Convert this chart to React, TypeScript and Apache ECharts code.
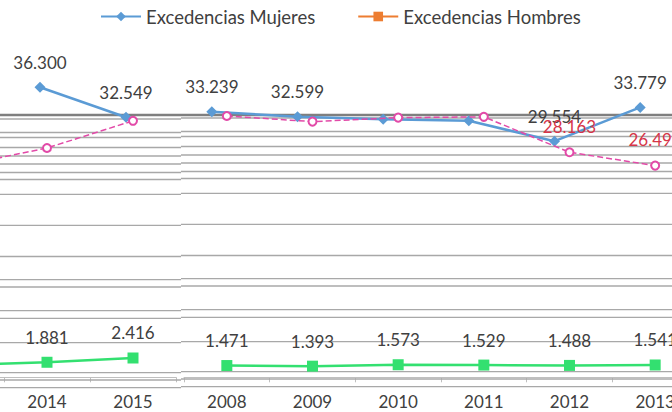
import React, { useEffect, useRef } from "react";
import * as echarts from "echarts";

const years = ["2008", "2009", "2010", "2011", "2012", "2013", "2014", "2015"];
const mujeres = [33239, 32599, 32300, 32100, 29554, 33779, 36300, 32549];
const hombres = [1471, 1393, 1573, 1529, 1488, 1541, 1881, 2416];
const fantasma = [32700, 32000, 32500, 32600, 28163, 26495, 28700, 32100];
const mujeresLabelShown = [true, true, false, false, true, true, true, true];
const fantasmaLabelShown = [false, false, false, false, true, true, false, false];

const leftIdx = [5, 6, 7];
const rightIdx = [0, 1, 2, 3, 4, 5];

const fmt = (v: number) =>
  String(Math.round(v)).replace(/\B(?=(\d{3})+(?!\d))/g, ".");

const FONT = "Lato, 'Open Sans', sans-serif";
const BLUE = "#5B9BD5";
const ORANGE = "#ED7D31";
const GREEN = "#33E070";
const PINK = "#E24AA8";
const TEXT = "#404040";

// glitch stripes seen in the picture (style only)
const stripeYs = [118, 131.5, 136.5, 146.5, 155, 163, 171.5, 178.5, 193.3, 224.3, 255.5, 278.7, 286, 309.7, 317.3, 341.7, 371.7, 379, 386.7];

export default function App() {
  const ref = useRef<HTMLDivElement>(null);
  useEffect(() => {
    if (!ref.current) return;
    const chart = echarts.init(ref.current, null, { renderer: "svg" });

    const gridTop = 57.7;
    const gridBottom = 34.7;
    const yAx = (i: number) => ({
      type: "value",
      gridIndex: i,
      min: 0,
      max: 40000,
      show: false,
      splitLine: { show: false },
    });
    // the left panel begins with a category lying outside the picture
    const xAx = (i: number, cats: string[], visible: boolean, hideFirst: boolean) => ({
      type: "category",
      gridIndex: i,
      data: cats,
      show: visible,
      boundaryGap: true,
      axisLine: { show: true, lineStyle: { color: "#BFBFBF", width: 1 } },
      axisTick: { show: true, length: 5, lineStyle: { color: "#BFBFBF" } },
      axisLabel: {
        interval: hideFirst ? (idx: number) => idx !== 0 : 0,
        margin: 16,
        fontSize: 17,
        color: TEXT,
        fontFamily: FONT,
      },
    });

    const leftCats = leftIdx.map((k) => years[k]);
    const rightCats = rightIdx.map((k) => years[k]);

    const labelBase = {
      show: true,
      position: "top",
      fontSize: 17,
      color: TEXT,
      fontFamily: FONT,
      formatter: (p: any) => fmt(p.value),
    };

    const mujeresSeries = (idx: number[], axis: number, hideFirst: boolean) => ({
      name: "Excedencias Mujeres",
      type: "line",
      xAxisIndex: axis,
      yAxisIndex: axis,
      data: idx.map((k, j) =>
        hideFirst && j === 0
          ? "-"
          : { value: mujeres[k], label: { show: mujeresLabelShown[k] } }
      ),
      symbol: "diamond",
      symbolSize: 11,
      lineStyle: { color: BLUE, width: 2.5 },
      itemStyle: { color: BLUE },
      label: { ...labelBase, distance: 11 },
      z: 3,
    });
    const hombresSeries = (idx: number[], axis: number, hideFirst: boolean) => ({
      name: "Excedencias Hombres",
      type: "line",
      xAxisIndex: axis,
      yAxisIndex: axis,
      data: idx.map((k, j) => ({ value: hombres[k], label: { show: !(hideFirst && j === 0) } })),
      symbol: "rect",
      symbolSize: 11,
      lineStyle: { color: GREEN, width: 2.5 },
      itemStyle: { color: GREEN },
      label: { ...labelBase, distance: 11 },
      z: 3,
    });
    const fantasmaSeries = (idx: number[], axis: number, hideFirst: boolean) => ({
      name: "fantasma",
      type: "line",
      xAxisIndex: axis,
      yAxisIndex: axis,
      data: idx.map((k, j) => ({
        value: fantasma[k],
        label: { show: fantasmaLabelShown[k] && !(hideFirst && j === 0) },
      })),
      symbol: "emptyCircle",
      symbolSize: 8,
      lineStyle: { color: PINK, width: 1.5, type: "dashed" },
      itemStyle: { color: PINK },
      label: { ...labelBase, color: "#D63548", distance: 12.5 },
      z: 4,
    });

    const graphics: any[] = [];
    graphics.push({
      type: "line",
      shape: { x1: 0, y1: 115, x2: 672, y2: 115 },
      style: { stroke: "#7F7F7F", lineWidth: 2.5 },
      z: 1,
    });
    stripeYs.forEach((y) => {
      graphics.push({
        type: "line",
        shape: { x1: 0, y1: y + 1, x2: 181, y2: y + 1 },
        style: { stroke: "#A8A8A8", lineWidth: 1.3 },
        z: 1,
      });
      graphics.push({
        type: "line",
        shape: { x1: 181, y1: y, x2: 672, y2: y },
        style: { stroke: "#A8A8A8", lineWidth: 1.3 },
        z: 1,
      });
    });

    const g = (left: number, width: number) => ({
      left,
      width,
      top: gridTop,
      bottom: gridBottom,
      outerBoundsMode: "none",
      containLabel: false,
    });

    const option: any = {
      animation: false,
      backgroundColor: "#FFFFFF",
      legend: {
        data: [
          { name: "Excedencias Mujeres" },
          {
            name: "Excedencias Hombres",
            itemStyle: { color: ORANGE },
            lineStyle: { color: ORANGE },
          },
        ],
        left: 100,
        top: 7,
        padding: 0,
        itemWidth: 40,
        itemHeight: 12,
        itemGap: 42,
        textStyle: { fontSize: 18.5, color: TEXT, fontFamily: FONT },
      },
      grid: [g(-82, 258), g(-89, 258), g(184, 514), g(169, 514)],
      xAxis: [
        xAx(0, leftCats, true, true),
        xAx(1, leftCats, false, true),
        xAx(2, rightCats, true, false),
        xAx(3, rightCats, false, false),
      ],
      yAxis: [yAx(0), yAx(1), yAx(2), yAx(3)],
      graphic: graphics,
      series: [
        fantasmaSeries(leftIdx, 0, true),
        fantasmaSeries(rightIdx, 2, false),
        mujeresSeries(leftIdx, 1, true),
        mujeresSeries(rightIdx, 3, false),
        hombresSeries(leftIdx, 0, true),
        hombresSeries(rightIdx, 2, false),
      ],
    };
    chart.setOption(option);
    return () => chart.dispose();
  }, []);
  return (
    <div
      ref={ref}
      style={{ position: "fixed", left: 0, top: 0, width: 672, height: 412 }}
    />
  );
}
